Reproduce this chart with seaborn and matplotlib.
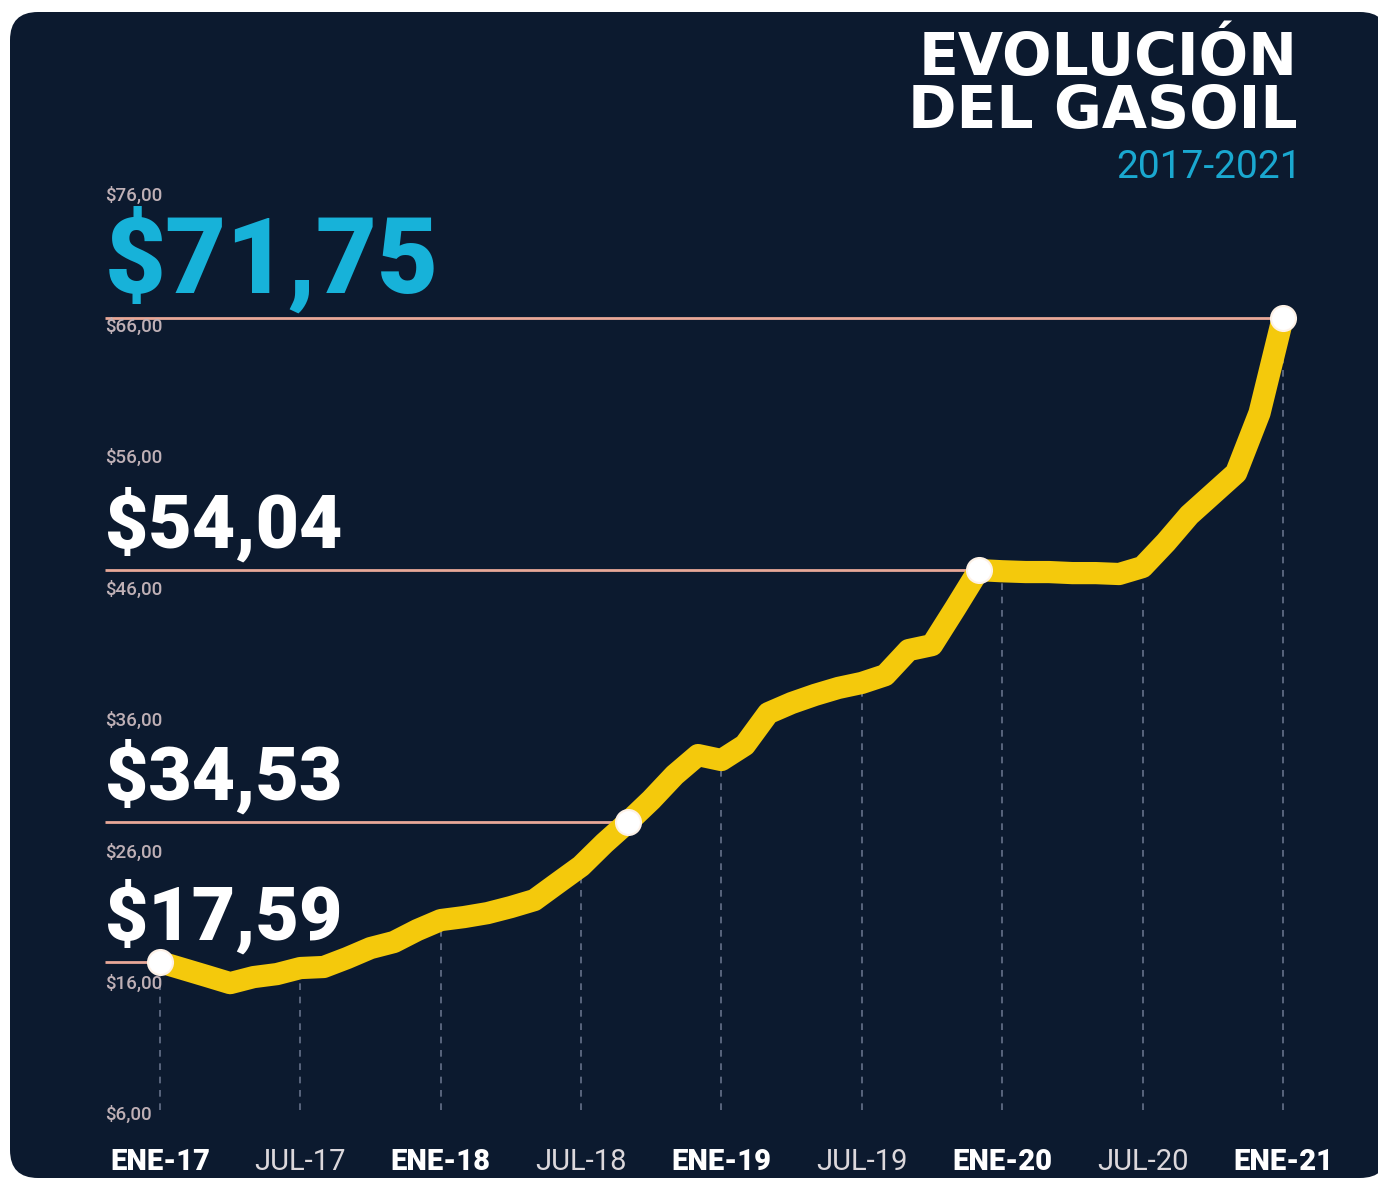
import numpy as np
import pandas as pd
import seaborn as sns
import matplotlib.pyplot as plt
from matplotlib.patches import FancyBboxPatch

# Monthly diesel price (as drawn), Jan-2017 .. Jan-2021
month_idx = list(range(49))
price = [17.65, 17.12, 16.59, 16.05, 16.51, 16.74, 17.20, 17.28, 17.96, 18.72,
         19.18, 20.09, 20.85, 21.08, 21.38, 21.84, 22.37, 23.67, 24.96, 26.71,
         28.30, 30.00, 31.89, 33.41, 33.03, 34.17, 36.60, 37.37, 37.99, 38.52,
         38.90, 39.49, 41.40, 41.78, 44.60, 47.49, 47.40, 47.34, 47.34, 47.26,
         47.26, 47.19, 47.72, 49.60, 51.68, 53.28, 54.88, 59.44, 66.70]

# highlighted points and their printed labels
hl_idx = [0, 20, 35, 48]
hl_labels = ['$17,59', '$34,53', '$54,04', '$71,75']

tick_months = [0, 6, 12, 18, 24, 30, 36, 42, 48]
tick_labels = ['ENE-17', 'JUL-17', 'ENE-18', 'JUL-18', 'ENE-19',
               'JUL-19', 'ENE-20', 'JUL-20', 'ENE-21']

y_ticks = [6, 16, 26, 36, 46, 56, 66, 76]
y_tick_labels = ['$6,00', '$16,00', '$26,00', '$36,00', '$46,00',
                 '$56,00', '$66,00', '$76,00']

BG = '#0c1a2f'
YELLOW = '#f4c90c'
CYAN = '#17b2d9'
REF = '#e8a898'
GREY = '#bfb0b6'
FONT = ['Roboto', 'DejaVu Sans']

sns.set_theme(style='dark')

df = pd.DataFrame({'month': month_idx, 'price': price})

fig = plt.figure(figsize=(13.78, 11.79), dpi=100, facecolor='white')

# rounded navy card
card = FancyBboxPatch((0.10, 0.01), 13.78, 11.66,
                      boxstyle='round,pad=0,rounding_size=0.28',
                      transform=fig.dpi_scale_trans, facecolor=BG,
                      edgecolor='none', zorder=-10)
fig.patches.append(card)

ax = fig.add_axes([0.0762, 0.0500, 0.8962, 0.8058])
ax.set_zorder(1)
ax.set_facecolor('none')
ax.patch.set_alpha(0)
ax.set_xlim(-2.35, 50.44)
ax.set_ylim(5.63, 77.94)
for s in ax.spines.values():
    s.set_visible(False)
ax.grid(False)

# dashed verticals from bottom up to the line
for m in tick_months:
    ax.vlines(m, 6.4, price[m] - 0.8, colors='#65718a', linestyles=(0, (4, 4)),
              linewidth=1.2, zorder=1)

# reference lines for highlighted values
for i in hl_idx:
    ax.hlines(price[i], -2.35, month_idx[i], colors=REF, linewidth=2.0, zorder=2)

sns.lineplot(data=df, x='month', y='price', ax=ax, color=YELLOW, linewidth=16,
             solid_capstyle='round', solid_joinstyle='round', zorder=3)

ax.scatter([month_idx[i] for i in hl_idx], [price[i] for i in hl_idx],
           s=18 ** 2, color='white', edgecolor='#fdf1e6', linewidth=1.5, zorder=4)

# big value labels
for i, lab in zip(hl_idx, hl_labels):
    big = i == hl_idx[-1]
    ax.annotate(lab, xy=(0, price[i]), xycoords=ax.get_yaxis_transform(),
                xytext=(0, 18 if big else 16), textcoords='offset points',
                ha='left', va='baseline', color=CYAN if big else 'white',
                fontsize=76 if big else 54, fontweight='black', family=FONT,
                zorder=5)

# y tick labels (left aligned)
ax.set_yticks([])
for v, lab in zip(y_ticks, y_tick_labels):
    ax.text(0, v, lab, transform=ax.get_yaxis_transform(), ha='left',
            va='center', color=GREY, fontsize=13.5, fontweight='medium',
            family=FONT)

ax.set_xticks(tick_months)
ax.set_xticklabels(tick_labels)
ax.tick_params(axis='x', length=0, pad=20)
for lab in ax.get_xticklabels():
    bold = lab.get_text().startswith('ENE')
    lab.set_family(FONT)
    lab.set_fontsize(21)
    lab.set_fontweight('black' if bold else 'normal')
    lab.set_color('white' if bold else '#dcd8dc')
ax.set_xlabel('')
ax.set_ylabel('')

# title block
fig.text(0.942, 0.9364, 'EVOLUCIÓN', ha='right', va='baseline', color='white',
         fontsize=42, fontweight='bold', family=['DejaVu Sans'])
fig.text(0.942, 0.8914, 'DEL GASOIL', ha='right', va='baseline', color='white',
         fontsize=42, fontweight='bold', family=['DejaVu Sans'])
fig.text(0.9448, 0.849, '2017-2021', ha='right', va='baseline', color='#1aa8d0',
         fontsize=28, fontweight='normal', family=FONT)

fig.savefig('out.png', dpi=100, facecolor='white')
